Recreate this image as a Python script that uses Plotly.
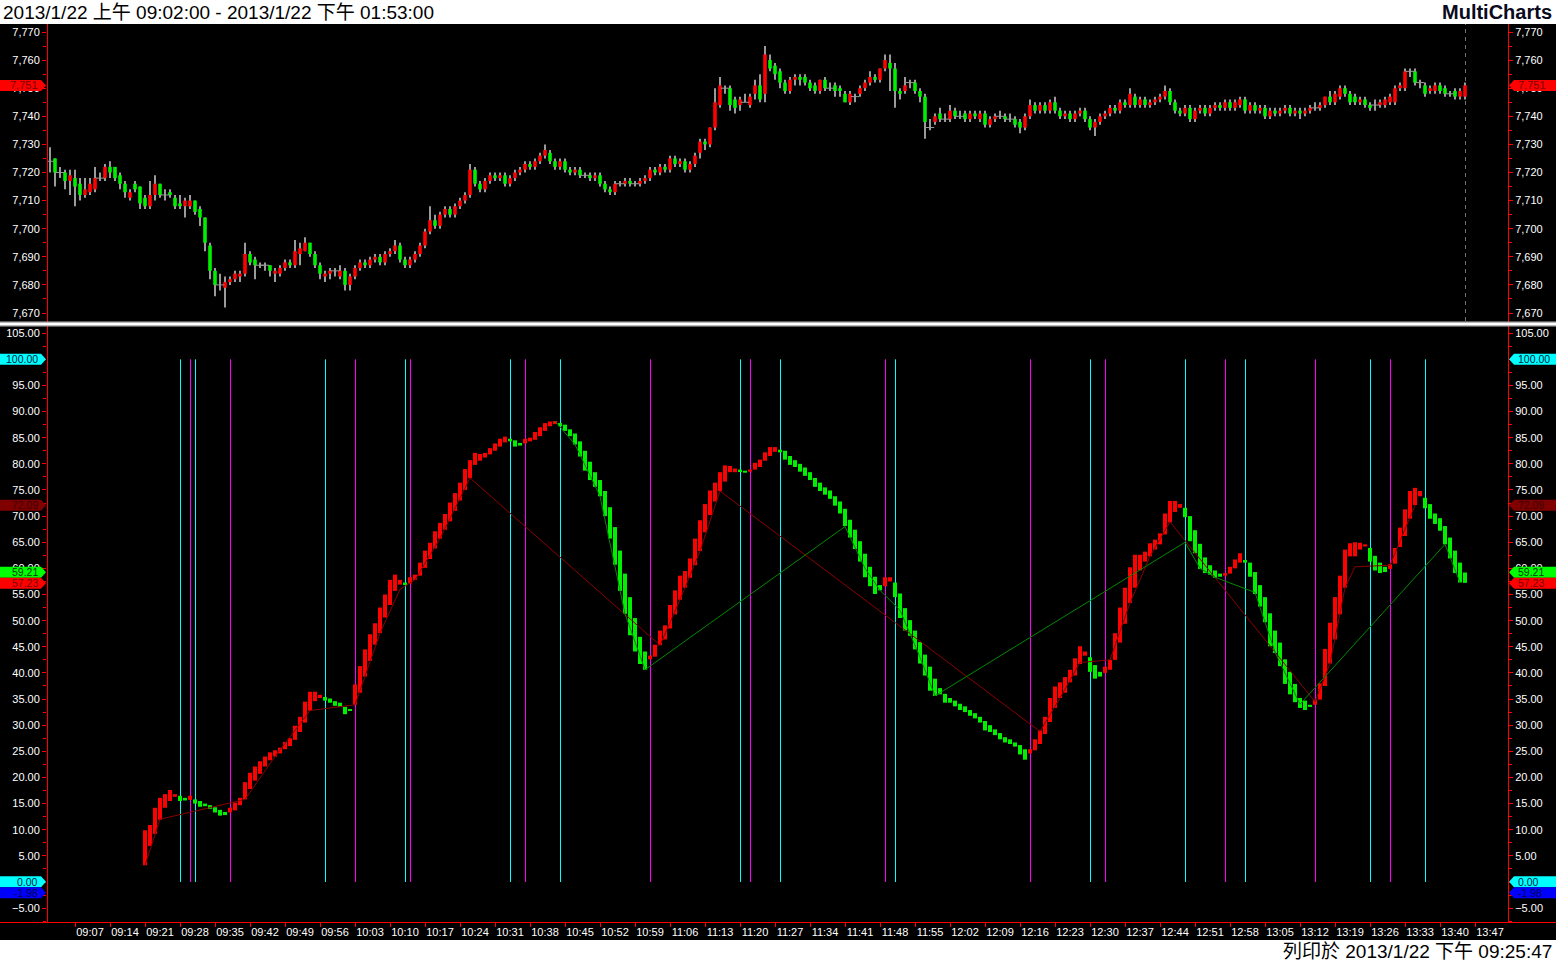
import plotly.graph_objects as go

W, H = 1556, 962

# ---------------- data ----------------
SESSION_START = "09:02"

OPEN = [7724,7725,7720,7720,7717,7718,7716,7712,7713,7714,7718,7718,7722,7722,7719,7716,7711,7716,7715,7711,
        7708,7712,7716,7712,7713,7711,7709,7708,7708,7710,7707,7704,7694,7685,7680,7679,7681,7682,7683,7684,
        7691,7689,7687,7687,7687,7684,7684,7686,7688,7687,7691,7692,7695,7691,7687,7683,7684,7685,7683,7685,
        7680,7683,7686,7688,7687,7689,7690,7688,7691,7692,7694,7689,7687,7689,7691,7694,7699,7703,7701,7705,
        7707,7705,7708,7710,7712,7721,7716,7714,7717,7719,7718,7719,7716,7718,7720,7721,7723,7722,7724,7726,
        7727,7724,7722,7724,7721,7720,7721,7719,7719,7718,7719,7716,7714,7713,7716,7716,7717,7716,7716,7717,
        7718,7721,7720,7722,7721,7725,7723,7724,7721,7723,7727,7731,7730,7736,7744,7750,7750,7746,7744,7745,
        7744,7748,7751,7748,7760,7758,7756,7752,7749,7753,7754,7754,7752,7751,7749,7753,7750,7751,7750,7748,
        7745,7747,7748,7750,7752,7754,7753,7757,7759,7757,7749,7749,7752,7752,7749,7747,7736,7738,7741,7739,
        7739,7742,7740,7741,7739,7741,7739,7741,7737,7739,7740,7740,7739,7739,7738,7736,7740,7744,7742,7744,
        7742,7745,7742,7740,7741,7739,7741,7742,7739,7736,7738,7740,7741,7743,7742,7745,7744,7747,7744,7746,
        7744,7745,7746,7747,7749,7745,7742,7741,7743,7739,7742,7743,7741,7743,7744,7743,7745,7743,7744,7746,
        7742,7744,7742,7743,7740,7742,7741,7742,7743,7741,7742,7741,7742,7743,7743,7744,7747,7745,7747,7750,
        7748,7747,7745,7746,7744,7744,7744,7744,7745,7745,7750,7750,7756,7756,7752,7751,7749,7749,7751,7750,
        7748,7749,7747,7747]
HIGH = [7729,7725,7722,7721,7721,7721,7718,7718,7718,7722,7720,7723,7724,7722,7720,7717,7714,7717,7715,7712,
        7717,7719,7716,7714,7714,7712,7712,7711,7712,7710,7708,7704,7695,7686,7684,7683,7683,7685,7685,7695,
        7692,7690,7688,7688,7687,7686,7687,7689,7689,7696,7695,7697,7695,7692,7688,7685,7686,7686,7687,7686,
        7684,7687,7689,7689,7690,7691,7691,7692,7693,7696,7695,7690,7690,7692,7695,7700,7708,7705,7706,7708,
        7708,7709,7711,7713,7723,7722,7717,7718,7720,7720,7720,7720,7719,7721,7722,7724,7724,7725,7727,7730,
        7728,7725,7725,7725,7722,7722,7722,7720,7720,7720,7720,7717,7715,7717,7717,7718,7718,7717,7718,7719,
        7722,7722,7723,7723,7726,7726,7725,7725,7724,7727,7732,7732,7736,7750,7754,7751,7751,7747,7747,7748,
        7748,7753,7755,7765,7762,7759,7757,7753,7754,7755,7755,7755,7753,7752,7753,7754,7752,7752,7751,7749,
        7749,7748,7751,7753,7756,7755,7757,7762,7762,7759,7750,7754,7753,7753,7750,7748,7739,7741,7743,7741,
        7744,7743,7742,7742,7742,7742,7742,7742,7740,7741,7742,7741,7741,7740,7739,7741,7746,7745,7745,7745,
        7746,7747,7743,7742,7742,7742,7743,7743,7740,7739,7741,7742,7744,7744,7746,7746,7750,7748,7747,7747,
        7746,7747,7748,7751,7750,7746,7743,7744,7744,7743,7744,7744,7744,7745,7745,7746,7746,7746,7747,7747,
        7745,7745,7744,7744,7743,7743,7743,7744,7744,7743,7743,7743,7744,7745,7745,7747,7749,7749,7751,7751,
        7749,7748,7747,7747,7745,7746,7746,7747,7748,7751,7752,7757,7757,7757,7753,7752,7751,7752,7752,7751,
        7749,7750,7750,7752]
LOW = [7720,7715,7718,7714,7712,7708,7710,7711,7712,7713,7717,7717,7718,7717,7714,7711,7710,7713,7707,7707,
       7707,7710,7711,7710,7711,7707,7707,7704,7707,7705,7701,7692,7682,7676,7678,7672,7680,7681,7681,7683,
       7687,7682,7686,7685,7683,7681,7683,7685,7686,7686,7687,7692,7690,7686,7682,7681,7682,7683,7682,7678,
       7678,7682,7685,7686,7686,7688,7687,7687,7690,7691,7688,7686,7686,7688,7690,7693,7698,7700,7700,7704,
       7704,7704,7707,7709,7711,7715,7713,7713,7716,7717,7717,7715,7715,7717,7719,7720,7721,7721,7723,7725,
       7723,7721,7721,7720,7719,7719,7718,7718,7717,7717,7715,7713,7712,7712,7715,7715,7715,7715,7715,7716,
       7717,7719,7719,7720,7720,7722,7722,7720,7720,7722,7725,7728,7729,7735,7743,7748,7742,7741,7742,7745,
       7743,7746,7745,7745,7756,7753,7750,7748,7748,7751,7751,7751,7749,7748,7748,7749,7749,7747,7747,7745,
       7744,7745,7747,7749,7751,7752,7752,7756,7749,7743,7746,7748,7750,7748,7745,7732,7735,7737,7738,7738,
       7738,7739,7739,7738,7738,7739,7738,7736,7736,7738,7739,7738,7738,7736,7734,7735,7739,7741,7741,7741,
       7741,7741,7739,7739,7738,7738,7740,7738,7735,7733,7737,7739,7740,7741,7741,7743,7743,7743,7743,7743,
       7743,7744,7745,7746,7744,7741,7740,7740,7738,7738,7741,7740,7740,7742,7742,7742,7742,7742,7743,7741,
       7741,7741,7741,7739,7739,7740,7740,7741,7740,7740,7739,7740,7741,7742,7742,7743,7744,7744,7746,7747,
       7744,7744,7744,7743,7742,7742,7743,7743,7744,7744,7749,7749,7754,7751,7750,7747,7748,7748,7748,7747,
       7747,7746,7746,7746]
CLOSE = [7724,7720,7720,7717,7719,7715,7712,7714,7716,7718,7718,7722,7720,7718,7716,7713,7713,7714,7709,7708,
         7712,7716,7712,7712,7712,7708,7708,7710,7710,7706,7704,7695,7685,7680,7680,7681,7682,7684,7684,7691,
         7688,7687,7687,7687,7685,7685,7686,7688,7687,7692,7693,7695,7691,7687,7684,7684,7685,7685,7685,7680,
         7683,7686,7688,7687,7689,7690,7688,7691,7692,7694,7689,7687,7689,7691,7694,7699,7703,7701,7705,7707,
         7705,7708,7710,7712,7721,7716,7714,7717,7719,7718,7719,7716,7718,7720,7721,7723,7722,7724,7726,7728,
         7724,7722,7724,7721,7720,7721,7719,7719,7718,7719,7716,7714,7713,7716,7716,7717,7716,7716,7717,7718,
         7721,7720,7722,7721,7725,7723,7724,7721,7723,7726,7731,7730,7736,7745,7751,7750,7744,7743,7746,7745,
         7747,7751,7746,7762,7757,7755,7752,7749,7753,7754,7753,7752,7750,7749,7753,7750,7750,7749,7749,7745,
         7748,7747,7750,7752,7754,7753,7757,7760,7757,7749,7748,7751,7752,7749,7747,7738,7736,7740,7739,7739,
         7742,7740,7740,7739,7741,7740,7741,7737,7739,7740,7740,7739,7739,7737,7736,7740,7744,7742,7744,7742,
         7745,7742,7740,7741,7739,7741,7742,7739,7736,7738,7740,7741,7743,7742,7745,7744,7748,7744,7746,7744,
         7745,7746,7747,7749,7745,7742,7741,7743,7739,7742,7743,7741,7743,7744,7743,7745,7743,7745,7746,7742,
         7744,7742,7743,7740,7742,7741,7742,7743,7741,7742,7741,7742,7743,7743,7744,7747,7745,7748,7750,7748,
         7745,7745,7746,7744,7743,7744,7745,7746,7747,7750,7751,7756,7756,7752,7752,7748,7750,7751,7749,7748,
         7748,7747,7749,7751]

# oscillator bars (first bar at 09:21)
IND_FIRST = 19
IND_OPEN = [3.2,6.9,9.2,11.9,14.2,15.5,16.3,16.5,16.1,15.7,15.8,15.5,15.0,14.7,14.3,13.8,13.4,13.3,13.7,14.7,
            15.8,17.8,19.4,20.7,22.1,23.3,24.0,24.6,25.4,26.0,27.2,28.7,30.5,32.8,34.6,35.2,35.4,35.1,34.6,34.3,
            33.5,33.1,33.9,36.2,39.3,42.3,45.4,47.6,50.6,53.0,55.7,56.9,57.3,57.1,57.8,58.6,60.1,61.8,63.8,65.7,
            67.4,69.0,71.0,73.0,75.0,77.3,79.8,80.6,81.2,81.8,82.5,83.3,84.1,84.8,84.5,84.0,83.9,84.3,84.6,85.3,
            86.3,87.2,87.6,87.8,87.5,86.6,85.8,84.3,82.5,80.4,78.4,76.9,74.8,71.7,67.9,63.4,59.0,54.5,50.5,46.9,
            44.1,42.6,43.1,45.3,46.4,48.5,51.2,54.0,56.3,58.2,60.6,63.3,66.9,70.2,72.8,74.8,76.6,78.4,78.4,78.9,
            78.7,78.5,78.9,79.4,80.6,81.5,82.3,82.7,82.5,81.5,80.7,80.0,79.3,78.4,77.3,76.4,75.5,74.9,73.8,72.8,
            71.4,69.3,67.4,65.2,62.8,60.3,58.4,56.8,56.6,57.5,57.3,55.2,52.4,50.1,48.1,45.9,43.5,41.2,38.9,37.1,
            36.0,35.2,34.7,34.1,33.6,32.9,32.3,31.6,30.8,30.0,29.2,28.5,27.7,27.3,26.7,26.2,25.4,24.6,25.2,26.4,
            28.3,30.6,33.3,35.2,36.2,38.2,39.5,41.7,43.3,43.0,41.5,40.2,40.0,40.6,42.5,45.8,49.4,53.4,56.3,59.6,
            61.3,62.3,63.6,64.6,66.5,68.8,70.8,71.6,71.6,70.0,67.3,64.7,62.1,60.6,59.6,59.0,58.6,59.0,60.0,61.1,
            61.6,61.1,59.3,56.8,54.5,51.4,48.1,45.8,42.6,40.2,37.9,35.2,34.7,33.9,33.9,34.9,37.5,41.8,46.4,51.2,
            56.3,62.3,62.3,63.6,64.2,63.9,62.4,61.1,60.3,59.9,60.9,64.1,66.2,69.5,72.1,73.8,73.5,72.3,70.5,69.6,
            68.1,65.9,63.4,61.1,59.21]
IND_CLOSE = [9.9,10.9,14.2,16.1,16.8,17.6,16.8,15.5,15.6,16.5,15.0,14.4,14.5,14.0,13.3,12.7,12.8,14.2,15.2,16.1,
             19.1,20.9,22.1,23.1,24.0,24.8,25.2,25.7,26.8,27.5,29.9,31.6,34.5,36.4,36.4,35.8,34.7,34.3,33.7,33.5,
             32.1,32.8,37.8,41.3,44.5,47.4,49.5,52.5,55.0,57.8,58.8,57.8,57.0,58.3,58.8,61.1,63.4,64.9,67.1,68.7,
             70.4,72.6,74.4,76.4,79.0,80.7,82.1,81.9,82.1,83.0,83.9,84.8,85.2,84.3,83.3,83.5,84.8,85.0,86.1,87.0,
             87.8,88.1,88.2,87.2,86.3,85.3,83.7,81.4,78.7,76.9,75.6,73.8,70.0,65.7,60.7,55.7,51.3,47.2,44.1,41.7,
             40.6,43.3,45.4,48.1,49.1,53.0,55.8,58.6,59.5,61.9,65.7,69.2,72.3,74.9,76.4,78.4,79.7,79.6,79.1,78.6,
             78.3,78.9,80.2,80.8,82.2,83.2,83.2,82.2,80.8,79.8,79.4,78.5,77.7,76.9,75.6,74.8,74.1,73.3,72.0,70.5,
             68.1,65.9,63.7,61.3,58.3,56.6,55.1,55.8,58.3,58.3,54.5,50.5,48.1,47.1,44.5,41.8,39.5,36.6,35.6,35.9,
             34.3,34.3,33.6,32.9,32.5,31.8,31.3,30.5,29.0,28.7,28.1,27.3,26.7,26.4,25.9,24.4,23.4,25.4,27.3,29.0,
             31.6,35.2,37.4,38.2,39.2,40.6,42.8,45.1,44.1,40.2,38.9,39.3,41.2,42.5,47.6,52.5,56.3,60.2,62.6,62.6,
             63.2,64.8,65.5,66.7,70.5,72.9,72.9,72.3,69.8,65.2,62.9,59.9,59.1,58.8,58.2,58.4,59.1,60.3,61.7,62.9,
             61.1,58.4,55.1,52.7,49.7,45.1,43.8,41.3,37.9,35.9,34.4,33.3,32.9,33.5,34.9,38.0,44.6,49.6,54.5,58.6,
             63.6,64.8,65.0,64.9,64.6,61.3,59.6,59.1,59.3,60.8,63.9,67.8,71.3,74.8,75.4,74.8,71.5,69.5,68.5,67.2,
             64.6,61.9,59.1,57.3,57.23]

RED_ZZ_I = [19, 22, 39, 45, 52, 61, 66, 70, 73, 78, 84, 122, 126, 130, 134, 198, 202, 206, 212, 216, 220, 224,
            253, 256, 259, 261, 268, 273]
RED_ZZ_V = [3.2, 12.0, 15.8, 24.0, 32.8, 33.9, 47.6, 56.0, 57.8, 65.7, 77.3, 45.3, 54.0, 63.3, 74.8, 28.8, 35.2,
            42.0, 42.5, 53.4, 62.3, 68.9, 34.5, 41.8, 56.3, 60.3, 60.6, 72.09]
GREEN_ZZ_I = [101, 105, 110, 115, 119, 159, 163, 166, 170, 174, 177, 227, 230, 233, 241, 245, 250, 279, 282]
GREEN_ZZ_V = [88.2, 83.7, 73.8, 51.3, 40.6, 68.0, 60.0, 55.8, 52.0, 43.0, 35.6, 65.0, 60.0, 58.3, 55.4, 44.0,
              34.0, 64.6, 57.3]

CYAN_MARKS = [26, 29, 55, 71, 92, 102, 138, 146, 169, 208, 227, 239, 264, 275]
MAGENTA_MARKS = [28, 36, 61, 72, 95, 120, 140, 167, 196, 211, 235, 253, 268]

TIME_LABELS = ["09:07", "09:14", "09:21", "09:28", "09:35", "09:42", "09:49", "09:56", "10:03", "10:10",
               "10:17", "10:24", "10:31", "10:38", "10:45", "10:52", "10:59", "11:06", "11:13", "11:20",
               "11:27", "11:34", "11:41", "11:48", "11:55", "12:02", "12:09", "12:16", "12:23", "12:30",
               "12:37", "12:44", "12:51", "12:58", "13:05", "13:12", "13:19", "13:26", "13:33", "13:40", "13:47"]

PRICE_TICKS = [7670, 7680, 7690, 7700, 7710, 7720, 7730, 7740, 7750, 7760, 7770]
OSC_TICKS = [-5, 0, 5, 10, 15, 20, 25, 30, 35, 40, 45, 50, 55, 60, 65, 70, 75, 80, 85, 90, 95, 100, 105]

# level markers on oscillator axis: value, background, text colour
OSC_LEVELS = [(100.0, "#00FFFF", "#002040"), (0.0, "#00FFFF", "#002040"), (-1.98, "#0000FF", "#000050"),
              (72.09, "#800000", "#3c0000"), (59.21, "#00FF00", "#004000"), (57.23, "#FF0000", "#7a0000")]

HEADER = "2013/1/22 上午 09:02:00 - 2013/1/22 下午 01:53:00"
FOOTER = "列印於 2013/1/22 下午 09:25:47"
BRAND = "MultiCharts"

# ---------------- layout geometry (pixels) ----------------
X_L, X_R = 47, 1508
FIRST_BAR_PX, BAR_PX = 50, 5.0
TOP_Y0, TOP_Y1 = 24, 321
BOT_Y0, BOT_Y1 = 327, 922
TOP_SCALE, TOP_REF = 2.81, (7670, 313)
BOT_SCALE, BOT_REF = 5.227, (0.0, 882)
HALF_PX = 0.5 / BAR_PX  # shift thin lines onto pixel centres
BOX_H = 11.0            # label box height in px

FONT = "Liberation Sans, Arial, Noto Sans CJK TC, sans-serif"
RED, GREEN, GREY = "#FF0000", "#00F000", "#9a9a9a"


def fx(p):
    return p / W


def fy(p):
    return 1 - p / H


def val_at(py, scale, ref):
    return ref[0] + (ref[1] - py) / scale


xr = [-(FIRST_BAR_PX - X_L) / BAR_PX, (X_R - FIRST_BAR_PX) / BAR_PX]
top_rng = [val_at(TOP_Y1, TOP_SCALE, TOP_REF), val_at(TOP_Y0, TOP_SCALE, TOP_REF)]
bot_rng = [val_at(BOT_Y1, BOT_SCALE, BOT_REF), val_at(BOT_Y0, BOT_SCALE, BOT_REF)]

n = len(CLOSE)
xs = list(range(n))

fig = go.Figure()

# --- price candles ---
fig.add_trace(go.Bar(x=xs, base=LOW, y=[h - l for h, l in zip(HIGH, LOW)], width=0.2,
                     marker=dict(color=GREY, line=dict(width=0)), xaxis="x", yaxis="y", hoverinfo="skip"))
up = [i for i in xs if CLOSE[i] > OPEN[i]]
dn = [i for i in xs if CLOSE[i] < OPEN[i]]
dj = [i for i in xs if CLOSE[i] == OPEN[i]]
fig.add_trace(go.Bar(x=up, base=[OPEN[i] for i in up], y=[CLOSE[i] - OPEN[i] for i in up], width=0.72,
                     marker=dict(color=RED, line=dict(width=0)), xaxis="x", yaxis="y", hoverinfo="skip"))
fig.add_trace(go.Bar(x=dn, base=[CLOSE[i] for i in dn], y=[OPEN[i] - CLOSE[i] for i in dn], width=0.72,
                     marker=dict(color=GREEN, line=dict(width=0)), xaxis="x", yaxis="y", hoverinfo="skip"))
fig.add_trace(go.Scatter(x=dj, y=[CLOSE[i] for i in dj], mode="markers",
                         marker=dict(symbol="line-ew", size=6, line=dict(color=GREY, width=1)),
                         xaxis="x", yaxis="y", hoverinfo="skip"))
fig.add_trace(go.Scatter(x=[0], y=[CLOSE[0]], mode="markers", marker=dict(opacity=0),
                         xaxis="x", yaxis="y2", hoverinfo="skip"))

# --- oscillator bars ---
ind_x = [IND_FIRST + k for k in range(len(IND_CLOSE))]
iu = [k for k in range(len(IND_CLOSE)) if IND_CLOSE[k] >= IND_OPEN[k]]
idn = [k for k in range(len(IND_CLOSE)) if IND_CLOSE[k] < IND_OPEN[k]]
fig.add_trace(go.Bar(x=[ind_x[k] for k in iu], base=[IND_OPEN[k] for k in iu],
                     y=[IND_CLOSE[k] - IND_OPEN[k] for k in iu], width=0.8,
                     marker=dict(color=RED, line=dict(width=0)), xaxis="x2", yaxis="y3", hoverinfo="skip"))
fig.add_trace(go.Bar(x=[ind_x[k] for k in idn], base=[IND_CLOSE[k] for k in idn],
                     y=[IND_OPEN[k] - IND_CLOSE[k] for k in idn], width=0.8,
                     marker=dict(color=GREEN, line=dict(width=0)), xaxis="x2", yaxis="y3", hoverinfo="skip"))
fig.add_trace(go.Scatter(x=RED_ZZ_I, y=RED_ZZ_V, mode="lines", line=dict(color="#8B0000", width=1),
                         xaxis="x2", yaxis="y3", hoverinfo="skip"))
fig.add_trace(go.Scatter(x=GREEN_ZZ_I, y=GREEN_ZZ_V, mode="lines", line=dict(color="#008A00", width=1),
                         xaxis="x2", yaxis="y3", hoverinfo="skip"))
fig.add_trace(go.Scatter(x=[0], y=[50], mode="markers", marker=dict(opacity=0),
                         xaxis="x2", yaxis="y4", hoverinfo="skip"))
fig.add_trace(go.Scatter(x=[0], y=[50], mode="markers", marker=dict(opacity=0),
                         xaxis="x3", yaxis="y3", hoverinfo="skip"))

shapes = []
annotations = []

# black chart background
shapes.append(dict(type="rect", xref="paper", yref="paper", x0=0, x1=1, y0=fy(940), y1=fy(24),
                   fillcolor="black", line=dict(width=0), layer="below"))
# signal verticals
for xi in CYAN_MARKS:
    shapes.append(dict(type="line", xref="x2", yref="y3", x0=xi + HALF_PX, x1=xi + HALF_PX, y0=0, y1=100,
                       line=dict(color="#00FFFF", width=1), layer="below"))
for xi in MAGENTA_MARKS:
    shapes.append(dict(type="line", xref="x2", yref="y3", x0=xi + HALF_PX, x1=xi + HALF_PX, y0=0, y1=100,
                       line=dict(color="#FF00FF", width=1), layer="below"))
# last bar dashed marker in price panel
shapes.append(dict(type="line", xref="x", yref="paper", x0=n - 1 + HALF_PX, x1=n - 1 + HALF_PX,
                   y0=fy(TOP_Y1), y1=fy(TOP_Y0),
                   line=dict(color="#707070", width=1, dash="4px,4px"), layer="below"))
# axis frame lines
for xp in (X_L, X_R):
    shapes.append(dict(type="line", xref="paper", yref="paper", x0=fx(xp + 0.5), x1=fx(xp + 0.5),
                       y0=fy(BOT_Y1), y1=fy(TOP_Y0), line=dict(color=RED, width=1), layer="above"))
shapes.append(dict(type="line", xref="paper", yref="paper", x0=0, x1=1, y0=fy(BOT_Y1 + 0.5),
                   y1=fy(BOT_Y1 + 0.5), line=dict(color=RED, width=1), layer="above"))
# panel separator
shapes.append(dict(type="rect", xref="paper", yref="paper", x0=0, x1=1, y0=fy(326.5), y1=fy(321.5),
                   fillcolor="#b8b8b8", line=dict(width=0), layer="above"))
shapes.append(dict(type="line", xref="paper", yref="paper", x0=0, x1=1, y0=fy(324), y1=fy(324),
                   line=dict(color="#ffffff", width=2), layer="above"))


def level_box(val, yref, scale, bg, fg, text, fsize=11):
    hh = (BOX_H / 2) / scale
    lx0, lx1, ltip = 0, 41, 46
    rtip, rx0, rx1 = 1509, 1514, 1556
    shapes.append(dict(type="path", xref="paper", yref=yref, fillcolor=bg, line=dict(width=0), layer="above",
                       path=f"M {fx(lx0)},{val - hh} L {fx(lx1)},{val - hh} L {fx(ltip)},{val} "
                            f"L {fx(lx1)},{val + hh} L {fx(lx0)},{val + hh} Z"))
    shapes.append(dict(type="path", xref="paper", yref=yref, fillcolor=bg, line=dict(width=0), layer="above",
                       path=f"M {fx(rtip)},{val} L {fx(rx0)},{val - hh} L {fx(rx1)},{val - hh} "
                            f"L {fx(rx1)},{val + hh} L {fx(rx0)},{val + hh} Z"))
    annotations.append(dict(x=fx(40), y=val, xref="paper", yref=yref, text=text, showarrow=False,
                            xanchor="right", yanchor="middle", font=dict(family=FONT, size=fsize, color=fg)))
    annotations.append(dict(x=fx(1516), y=val, xref="paper", yref=yref, text=text, showarrow=False,
                            xanchor="left", yanchor="middle", font=dict(family=FONT, size=fsize, color=fg)))


# place oscillator level boxes; boxes that would overlap are stacked edge to edge (as the platform does)
placed = []
for v, bg, fg in sorted(OSC_LEVELS, key=lambda t: -t[0]):
    pos = v
    if placed and (placed[-1] - pos) * BOT_SCALE < BOX_H:
        gap = (BOX_H / BOT_SCALE - (placed[-1] - pos)) / 2
        placed[-1] += gap
        pos -= gap
    placed.append(pos)
order = sorted(OSC_LEVELS, key=lambda t: -t[0])
for (v, bg, fg), pos in zip(order, placed):
    level_box(pos, "y3", BOT_SCALE, bg, fg, f"{v:.2f}", fsize=10.5)
level_box(CLOSE[-1], "y", TOP_SCALE, RED, "#7a0000", f"{CLOSE[-1]:,d}")

# header / footer text
annotations.append(dict(x=fx(1), y=fy(12), xref="paper", yref="paper", text=HEADER, showarrow=False,
                        xanchor="left", yanchor="middle", font=dict(family=FONT, size=19, color="#000000")))
annotations.append(dict(x=fx(1554), y=fy(12), xref="paper", yref="paper", text=f"<b>{BRAND}</b>",
                        showarrow=False, xanchor="right", yanchor="middle",
                        font=dict(family=FONT, size=20, color="#0a0a20")))
annotations.append(dict(x=fx(1554), y=fy(951), xref="paper", yref="paper", text=FOOTER, showarrow=False,
                        xanchor="right", yanchor="middle", font=dict(family=FONT, size=19, color="#000000")))

h0, m0 = SESSION_START.split(":")
tick_pos = [int(t[:2]) * 60 + int(t[3:]) - (int(h0) * 60 + int(m0)) for t in TIME_LABELS]

tickfont = dict(family=FONT, size=11, color="#FFFFFF")
yax_common = dict(showgrid=False, zeroline=False, showline=False, ticks="outside", ticklen=4,
                  tickcolor=RED, tickwidth=1, tickfont=tickfont, fixedrange=True)

fig.update_layout(
    width=W, height=H, margin=dict(l=0, r=0, t=0, b=0),
    paper_bgcolor="white", plot_bgcolor="black", showlegend=False, barmode="overlay",
    hovermode=False, shapes=shapes, annotations=annotations,
    xaxis=dict(domain=[fx(X_L), fx(X_R)], range=xr, anchor="y", showticklabels=False, showgrid=False,
               zeroline=False, showline=False, ticks=""),
    xaxis2=dict(domain=[fx(X_L), fx(X_R)], range=xr, anchor="y3", showgrid=False, zeroline=False,
                showline=False, ticks="", tickvals=tick_pos, ticktext=TIME_LABELS, tickfont=tickfont,
                ticklabelshift=15, ticklabelstandoff=2),
    xaxis3=dict(range=xr, overlaying="x2", anchor="y3", showgrid=False, zeroline=False, showline=False,
                showticklabels=False, ticks="outside", ticklen=4, tickcolor=RED, tickvals=tick_pos),
    yaxis=dict(domain=[fy(TOP_Y1), fy(TOP_Y0)], range=top_rng, anchor="x", side="left",
               tickvals=PRICE_TICKS, tickformat=",d",
               minor=dict(dtick=5, tick0=7670, ticks="outside", ticklen=3, tickcolor=RED), **yax_common),
    yaxis2=dict(range=top_rng, overlaying="y", anchor="x", side="right", tickvals=PRICE_TICKS,
                tickformat=",d",
                minor=dict(dtick=5, tick0=7670, ticks="outside", ticklen=3, tickcolor=RED), **yax_common),
    yaxis3=dict(domain=[fy(BOT_Y1), fy(BOT_Y0)], range=bot_rng, anchor="x2", side="left",
                tickvals=OSC_TICKS, tickformat=".2f",
                minor=dict(dtick=2.5, tick0=0, ticks="outside", ticklen=3, tickcolor=RED), **yax_common),
    yaxis4=dict(range=bot_rng, overlaying="y3", anchor="x2", side="right", tickvals=OSC_TICKS,
                tickformat=".2f",
                minor=dict(dtick=2.5, tick0=0, ticks="outside", ticklen=3, tickcolor=RED), **yax_common),
)

fig.write_html("out.html", config={"displayModeBar": False},
               post_script="document.body.style.margin='0px';document.body.style.overflow='hidden';")
